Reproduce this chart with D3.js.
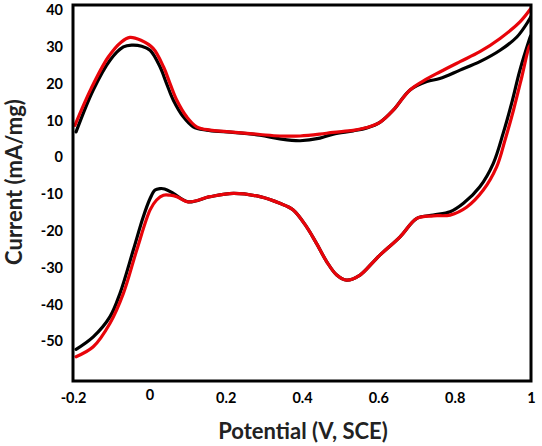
<!DOCTYPE html>
<html>
<head>
<meta charset="utf-8">
<script src="https://cdn.jsdelivr.net/npm/d3@7"></script>
<style>
  html, body { margin: 0; padding: 0; background: #fff; }
  svg { display: block; }
  text { font-family: Lato, "Open Sans", sans-serif; }
</style>
</head>
<body>
<svg id="chart" width="542" height="446"></svg>
<script>
// ---- data: [potential (V), current (mA/mg)] ----
const blackAnodic = [
  [-0.192, 6.9], [-0.147, 18.3], [-0.103, 26.4], [-0.068, 30.0], [-0.046, 30.5],
  [-0.020, 30.2], [0.002, 29.1], [0.028, 24.6], [0.045, 20.1], [0.063, 15.5],
  [0.089, 11.0], [0.115, 8.3], [0.150, 7.4], [0.203, 6.9], [0.290, 6.0],
  [0.342, 5.0], [0.395, 4.5], [0.447, 5.2], [0.482, 6.3], [0.534, 7.2],
  [0.570, 8.0], [0.604, 9.5], [0.639, 12.8], [0.683, 18.3], [0.727, 20.6],
  [0.761, 21.4], [0.814, 23.7], [0.866, 26.0], [0.919, 29.1], [0.963, 32.7],
  [0.993, 37.0], [1.000, 38.3]
];
const blackCathodic = [
  [0.999, 33.0], [0.995, 31.8], [0.971, 23.7], [0.949, 14.6], [0.927, 6.5],
  [0.901, -1.7], [0.866, -8.0], [0.823, -12.5], [0.788, -14.8], [0.744, -15.7],
  [0.701, -16.6], [0.657, -21.6], [0.604, -26.6], [0.587, -28.4], [0.552, -32.0],
  [0.517, -33.4], [0.491, -32.0], [0.465, -28.4], [0.438, -23.4], [0.412, -18.9],
  [0.377, -14.3], [0.342, -12.5], [0.290, -10.7], [0.220, -9.8], [0.159, -10.7],
  [0.102, -12.1], [0.063, -9.8], [0.040, -8.6], [0.028, -8.5], [0.015, -8.9],
  [0.002, -11.2], [-0.016, -16.2], [-0.042, -25.2], [-0.077, -37.0], [-0.103, -43.3],
  [-0.147, -48.8], [-0.192, -52.2]
];
const redAnodic = [
  [-0.195, 8.7], [-0.152, 18.8], [-0.108, 27.2], [-0.074, 31.3], [-0.051, 32.6],
  [-0.022, 31.8], [0.010, 29.6], [0.037, 24.6], [0.054, 20.1], [0.072, 15.5],
  [0.098, 11.0], [0.124, 8.3], [0.159, 7.4], [0.203, 7.0], [0.290, 6.2],
  [0.342, 5.8], [0.395, 5.8], [0.447, 6.3], [0.482, 6.8], [0.534, 7.3],
  [0.570, 8.1], [0.604, 9.5], [0.639, 12.8], [0.683, 18.3], [0.727, 21.3],
  [0.761, 23.2], [0.814, 26.0], [0.866, 28.7], [0.919, 32.3], [0.971, 36.8],
  [1.000, 40.5]
];
const redCathodic = [
  [0.999, 30.6], [0.995, 30.0], [0.976, 21.9], [0.954, 12.8], [0.932, 4.7],
  [0.910, -2.6], [0.875, -8.9], [0.832, -13.5], [0.788, -15.7], [0.744, -15.9],
  [0.701, -16.6], [0.657, -21.6], [0.604, -26.6], [0.587, -28.4], [0.552, -32.0],
  [0.517, -33.4], [0.491, -32.0], [0.465, -28.4], [0.438, -23.4], [0.412, -18.9],
  [0.377, -14.3], [0.342, -12.5], [0.290, -10.7], [0.220, -9.8], [0.159, -10.7],
  [0.102, -12.1], [0.072, -10.7], [0.054, -10.3], [0.037, -10.3], [0.019, -11.6],
  [0.002, -14.3], [-0.033, -25.2], [-0.068, -37.0], [-0.103, -45.1], [-0.147, -51.5],
  [-0.192, -54.2]
];
const xTicks = [-0.2, 0, 0.2, 0.4, 0.6, 0.8, 1];
const xTickLabels = ["-0.2", "0", "0.2", "0.4", "0.6", "0.8", "1"];
const yTicks = [40, 30, 20, 10, 0, -10, -20, -30, -40, -50];
const seriesColors = ["#000000", "#e8040a"];

// ---- layout ----
const svg = d3.select("#chart");
const mLeft = 73, mRight = 531, mTop = 5, mBottom = 381;

const x = d3.scaleLinear().domain([-0.2, 1]).range([mLeft, mRight]);
const y = d3.scaleLinear().domain([-60.8, 41.4]).range([mBottom, mTop]);

svg.append("defs").append("clipPath").attr("id", "plotclip")
  .append("rect").attr("x", mLeft).attr("y", mTop)
  .attr("width", mRight - mLeft).attr("height", mBottom - mTop);

const line = d3.line()
  .x(d => x(d[0])).y(d => y(d[1]))
  .curve(d3.curveCatmullRom.alpha(0.5));

const plot = svg.append("g").attr("clip-path", "url(#plotclip)");
[[blackAnodic, blackCathodic, seriesColors[0]], [redAnodic, redCathodic, seriesColors[1]]]
  .forEach(([a, c, col]) => {
    [a, c].forEach(branch => {
      plot.append("path").datum(branch)
        .attr("d", line)
        .attr("fill", "none")
        .attr("stroke", col)
        .attr("stroke-width", 3.2)
        .attr("stroke-linejoin", "round")
        .attr("stroke-linecap", "round");
    });
  });

// frame
svg.append("rect")
  .attr("x", mLeft).attr("y", mTop)
  .attr("width", mRight - mLeft).attr("height", mBottom - mTop)
  .attr("fill", "none").attr("stroke", "#000").attr("stroke-width", 3);

// axes
const yAxis = svg.append("g").attr("transform", `translate(${mLeft},0)`)
  .call(d3.axisLeft(y).tickValues(yTicks).tickSize(0).tickPadding(10).tickFormat(d => d));
const xAxis = svg.append("g").attr("transform", `translate(0,${mBottom})`)
  .call(d3.axisBottom(x).tickValues(xTicks).tickSize(0).tickPadding(12)
    .tickFormat((d, i) => xTickLabels[i]));
[yAxis, xAxis].forEach(g => {
  g.select(".domain").remove();
  g.selectAll("text")
    .attr("font-family", "Lato, 'Open Sans', sans-serif")
    .attr("font-size", 14.5)
    .attr("font-weight", "bold")
    .attr("fill", "#000");
});
// the "0" label sits slightly higher in the original
xAxis.selectAll(".tick").filter(d => d === 0).select("text").attr("y", 9);

// axis titles
svg.append("text")
  .attr("x", 303).attr("y", 439)
  .attr("text-anchor", "middle")
  .attr("font-size", 22).attr("font-weight", "bold").attr("fill", "#222")
  .text("Potential (V, SCE)");

svg.append("text")
  .attr("transform", "translate(22,182) rotate(-90)")
  .attr("text-anchor", "middle")
  .attr("font-size", 22).attr("font-weight", "bold").attr("fill", "#222")
  .text("Current (mA/mg)");
</script>
</body>
</html>
